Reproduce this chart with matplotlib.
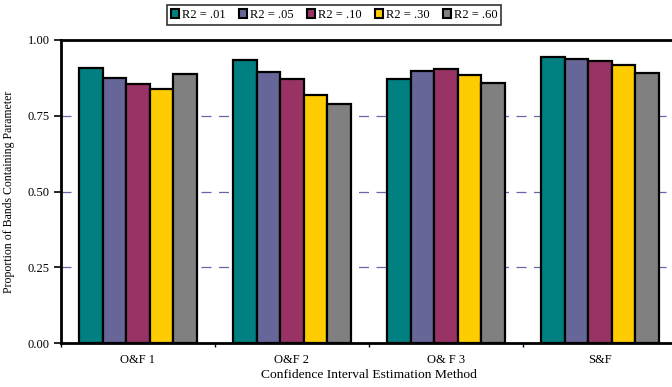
import numpy as np
import matplotlib.pyplot as plt
from matplotlib.patches import Patch

plt.rcParams['font.family'] = ['Liberation Serif', 'DejaVu Serif']

methods = ["O&F 1", "O&F 2", "O& F 3", "S&F"]
series = ["R2 = .01", "R2 = .05", "R2 = .10", "R2 = .30", "R2 = .60"]
colors = ["#008080", "#666699", "#993366", "#FFCC00", "#808080"]

r2_01 = [0.909, 0.933, 0.871, 0.943]
r2_05 = [0.874, 0.896, 0.899, 0.936]
r2_10 = [0.855, 0.871, 0.903, 0.931]
r2_30 = [0.839, 0.818, 0.884, 0.916]
r2_60 = [0.888, 0.788, 0.859, 0.891]
values = [r2_01, r2_05, r2_10, r2_30, r2_60]

fig = plt.figure(figsize=(6.72, 3.87), dpi=100)
# axes right edge runs slightly past the image, like the original
ax = fig.add_axes([61 / 672, 1 - 343 / 387, 616 / 672, 303 / 387])

w = 0.153
x = np.arange(len(methods))
for k, (vals, c) in enumerate(zip(values, colors)):
    ax.bar(x + 0.5 + (k - 2) * w, vals, width=w, color=c,
           edgecolor="black", linewidth=1.6, zorder=3)

ax.set_xlim(0, len(methods))
ax.set_ylim(0, 1.0)
ax.set_yticks([0, 0.25, 0.5, 0.75, 1.0])
ax.set_yticklabels(["0.00", "0.25", "0.50", "0.75", "1.00"], fontsize=9)
ax.set_xticks(np.arange(len(methods) + 1))
ax.set_xticklabels([])
ax.set_xticks(x + 0.5, minor=True)
ax.set_xticklabels(methods, minor=True, fontsize=9)
ax.tick_params(axis="x", which="minor", length=0, pad=8)
ax.tick_params(axis="x", which="major", length=3, width=1, direction="out")
ax.tick_params(axis="y", length=5, width=1.2, direction="out", pad=3)

for yv in [0.25, 0.5, 0.75]:
    ax.axhline(yv, color="#6666aa", linewidth=0.9, dashes=(8, 6), zorder=1)

for s in ax.spines.values():
    s.set_linewidth(2)

ax.set_xlabel("Confidence Interval Estimation Method", fontsize=9.7, labelpad=2)
ax.set_ylabel("Proportion of Bands Containing Parameter", fontsize=8.5, labelpad=9)

handles = [Patch(facecolor=c, edgecolor="black", linewidth=1.5) for c in colors]
leg = fig.legend(handles, series, loc="center", bbox_to_anchor=(334 / 672, 1 - 15 / 387),
                 ncol=5, fontsize=9, frameon=True, fancybox=False,
                 handlelength=0.7, handleheight=0.7, handletextpad=0.2,
                 columnspacing=1.05, borderpad=0.3, edgecolor="black")
leg.get_frame().set_linewidth(1.2)

fig.savefig("out.png", dpi=100)
